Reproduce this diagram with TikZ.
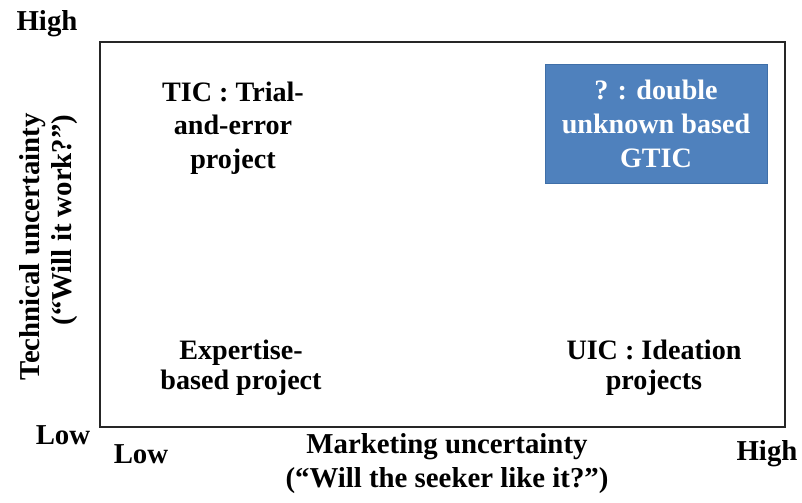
\documentclass[tikz,border=0pt]{standalone}
\usepackage{fontspec}
\setmainfont{Liberation Serif}
\usepackage{tikz}
\usetikzlibrary{positioning}
\usepackage{xcolor}
\definecolor{gticfill}{HTML}{4F81BD}
\definecolor{gticline}{HTML}{3F6FA8}
\tikzset{
  quadlbl/.style  = {align=center, inner sep=1pt,
                     font=\fontsize{20}{24}\selectfont\bfseries},
  lowlbl/.style   = {quadlbl, font=\fontsize{20}{21.5}\selectfont\bfseries},
  axlbl/.style    = {align=center, inner sep=1pt,
                     font=\fontsize{20.5}{24}\selectfont\bfseries},
  gticbox/.style  = {quadlbl, draw=gticline, fill=gticfill, text=white,
                     minimum width=5.55cm, minimum height=2.975cm},
  frameline/.style = {draw=black!85, line width=1.7pt}
}

\begin{document}
\begin{tikzpicture}[x=0.025cm, y=-0.025cm]
  \useasboundingbox (0,0) rectangle (802,503);

  % matrix frame
  \coordinate (ftl) at (100,42);
  \coordinate (fbr) at (785,427);
  \draw[frameline] (ftl) rectangle (fbr);

  % quadrants
  \node[quadlbl] (tic) at (233,128) {TIC : Trial-\\and-error\\project};
  \node[gticbox] (gtic) at (656,124) {? : double\\unknown based\\GTIC};
  \node[lowlbl] (exp) at (241,368) {Expertise-\\based project};
  \node[lowlbl] (uic) at (654,368) {UIC : Ideation\\projects};

  % vertical axis
  \node[axlbl] (yhigh) at (47,24) {High};
  \node[axlbl] (ylow)  at (63,435) {Low};
  \node[axlbl, rotate=90] (ytitle) at (33,247) {Technical uncertainty};
  \node[axlbl, rotate=90] (ysub)   at (65,220) {(“Will it work?”)};

  % horizontal axis
  \node[axlbl] (xlow)  at (141,454) {Low};
  \node[axlbl] (xhigh) at (767,454) {High};
  \node[axlbl] (xtitle) at (447,447) {Marketing uncertainty};
  \node[axlbl] (xsub)   at (447,481) {(“Will the seeker like it?”)};
\end{tikzpicture}
\end{document}
